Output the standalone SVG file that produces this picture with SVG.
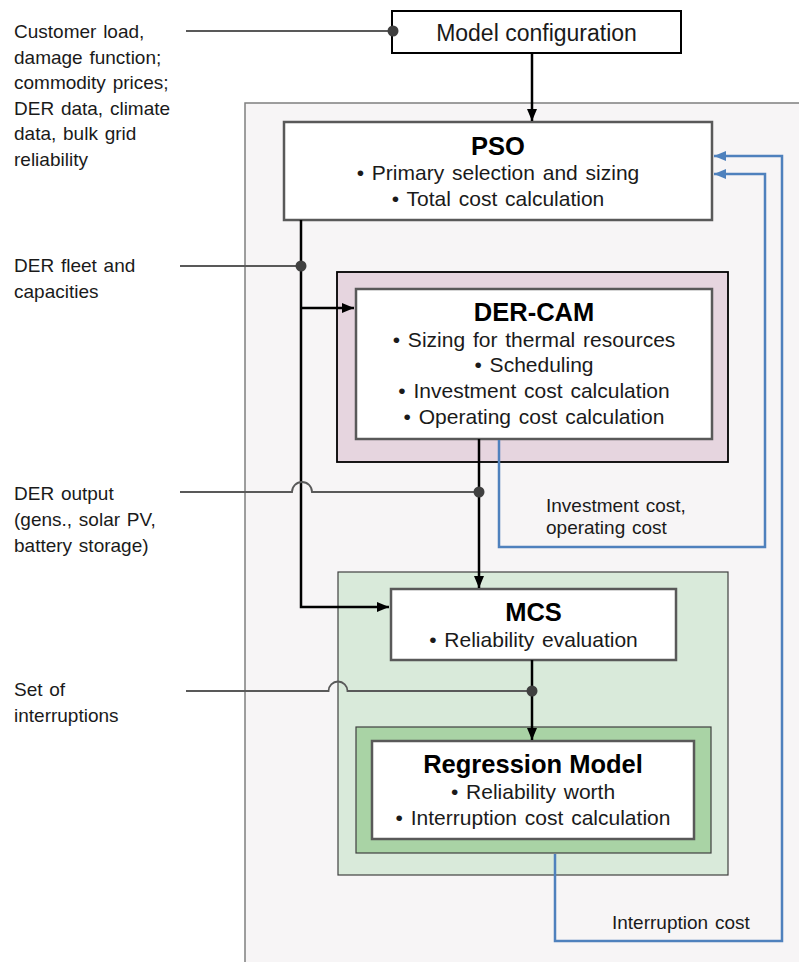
<svg xmlns="http://www.w3.org/2000/svg" width="799" height="962" viewBox="0 0 799 962">
<style>
text{font-family:"Liberation Sans",Arial,sans-serif;fill:#1a1a1a}
.lbl{font-size:19px;word-spacing:1.5px}
.box{font-size:21px;text-anchor:middle;word-spacing:2px}
.ttl{font-size:25.5px;font-weight:bold;text-anchor:middle;fill:#000}
.inner{fill:#fff;stroke:#595959;stroke-width:2.5}
.flow{fill:none;stroke:#000;stroke-width:2.5}
.inp{fill:none;stroke:#595959;stroke-width:1.8}
.fb{fill:none;stroke:#4f81bd;stroke-width:2.5}
.dot{fill:#404040}
</style>
<defs>
<marker id="ak" markerUnits="userSpaceOnUse" markerWidth="12" markerHeight="12" viewBox="0 0 12 12" refX="12" refY="6" orient="auto"><path d="M0,1 L12,6 L0,11 Z" fill="#000"/></marker>
<marker id="ab" markerUnits="userSpaceOnUse" markerWidth="12" markerHeight="12" viewBox="0 0 12 12" refX="12" refY="6" orient="auto"><path d="M0,1 L12,6 L0,11 Z" fill="#4f81bd"/></marker>
</defs>
<rect width="799" height="962" fill="#fff"/>
<g id="frame"><rect x="245" y="103" width="570" height="870" fill="#f7f5f6" stroke="#7f7f7f" stroke-width="1.5"/></g>

<g id="labels">
<text class="lbl" x="14" y="38">Customer load,</text>
<text class="lbl" x="14" y="64">damage function;</text>
<text class="lbl" x="14" y="89">commodity prices;</text>
<text class="lbl" x="14" y="115">DER data, climate</text>
<text class="lbl" x="14" y="140">data, bulk grid</text>
<text class="lbl" x="14" y="166">reliability</text>
<text class="lbl" x="14" y="272">DER fleet and</text>
<text class="lbl" x="14" y="298">capacities</text>
<text class="lbl" x="14" y="500">DER output</text>
<text class="lbl" x="14" y="526">(gens., solar PV,</text>
<text class="lbl" x="14" y="552">battery storage)</text>
<text class="lbl" x="14" y="696">Set of</text>
<text class="lbl" x="14" y="722">interruptions</text>
<text class="lbl" x="546" y="512">Investment cost,</text>
<text class="lbl" x="546" y="534">operating cost</text>
<text class="lbl" x="612" y="929">Interruption cost</text>
</g>

<g id="model-config">
<rect x="392" y="11" width="289" height="42" fill="#fff" stroke="#000" stroke-width="2"/>
<text x="536.5" y="41" style="font-size:23px;text-anchor:middle">Model configuration</text>
</g>

<g id="pso">
<rect class="inner" x="284" y="122" width="428" height="98"/>
<text class="ttl" x="498" y="155">PSO</text>
<text class="box" x="498" y="180">• Primary selection and sizing</text>
<text class="box" x="498" y="206">• Total cost calculation</text>
</g>

<g id="der-cam">
<rect x="337" y="272" width="391" height="190" fill="#e6d5df" stroke="#000" stroke-width="1.8"/>
<rect class="inner" x="356" y="289" width="356" height="150"/>
<text class="ttl" x="534" y="321">DER-CAM</text>
<text class="box" x="534" y="347">• Sizing for thermal resources</text>
<text class="box" x="534" y="372">• Scheduling</text>
<text class="box" x="534" y="398">• Investment cost calculation</text>
<text class="box" x="534" y="424">• Operating cost calculation</text>
</g>

<g id="mcs">
<rect x="338" y="572" width="390" height="303" fill="#d9eada" stroke="#404040" stroke-width="1.2"/>
<rect class="inner" x="391" y="589" width="285" height="71"/>
<text class="ttl" x="533.5" y="621">MCS</text>
<text class="box" x="533.5" y="647">• Reliability evaluation</text>
</g>

<g id="regression">
<rect x="356" y="727" width="355" height="126" fill="#a9d3a5" stroke="#404040" stroke-width="1.2"/>
<rect class="inner" x="372" y="741" width="322" height="98"/>
<text class="ttl" x="533" y="773">Regression Model</text>
<text class="box" x="533" y="799">• Reliability worth</text>
<text class="box" x="533" y="825">• Interruption cost calculation</text>
</g>

<g id="connectors">
<path class="inp" d="M186 31 H393"/>
<path class="flow" d="M532 54 V121" marker-end="url(#ak)"/>
<path class="flow" d="M301 220 V607 H389" marker-end="url(#ak)"/>
<path class="flow" d="M301 308 H354" marker-end="url(#ak)"/>
<path class="inp" d="M180 266 H301"/>
<path class="inp" d="M180 492 H292 A10 10 0 0 1 312 492 H479"/>
<path class="flow" d="M479 439 V588" marker-end="url(#ak)"/>
<path class="inp" d="M186 691 H328.5 A9.5 9.5 0 0 1 347.5 691 H532"/>
<path class="flow" d="M532 660 V740" marker-end="url(#ak)"/>
<path class="fb" d="M499 440 V547 H765 V174 H714" marker-end="url(#ab)"/>
<path class="fb" d="M555 854 V941 H782 V156 H714" marker-end="url(#ab)"/>
<circle class="dot" cx="393" cy="31" r="5.5"/>
<circle class="dot" cx="301" cy="266" r="5.5"/>
<circle class="dot" cx="479" cy="492" r="5.5"/>
<circle class="dot" cx="532" cy="691" r="5.5"/>
</g>
</svg>
